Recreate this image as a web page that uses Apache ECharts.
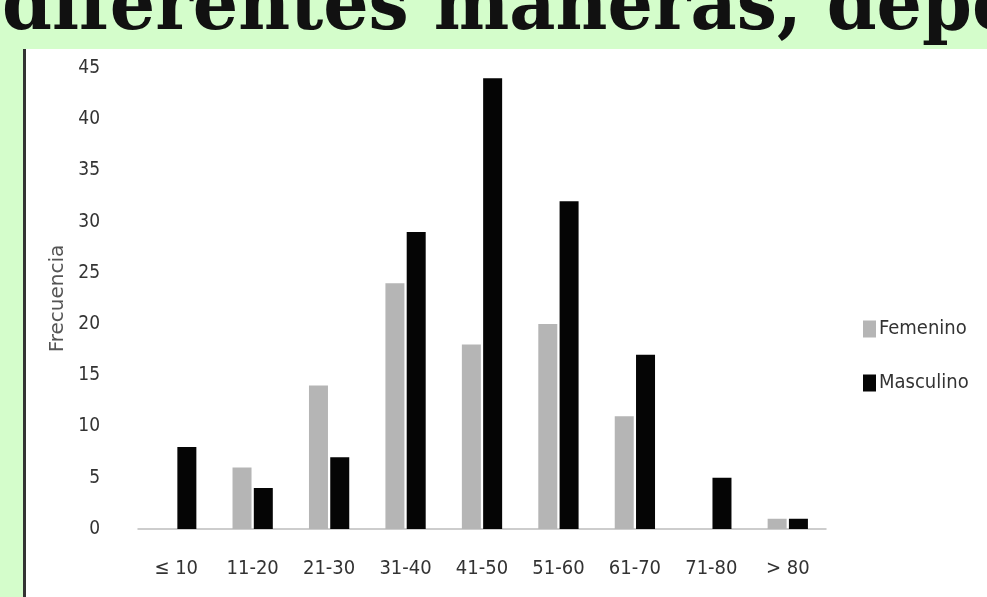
<!DOCTYPE html>
<html>
<head>
<meta charset="utf-8">
<script src="https://cdn.jsdelivr.net/npm/echarts@6/dist/echarts.min.js"></script>
<style>
  html, body { margin: 0; padding: 0; }
  body { width: 987px; height: 597px; background: #d4fdcb; position: relative; overflow: hidden; }
  .titulo {
    position: absolute; left: 2px; top: -34px; white-space: nowrap; line-height: 74px;
    font-family: "DejaVu Serif", serif; font-weight: bold;
    font-size: 74px; color: #111; transform: scaleX(0.965); transform-origin: 0 0;
  }
  .hoja { position: absolute; left: 23px; top: 49px; right: 0; bottom: 0; background: #fff; border-left: 3px solid #333; }
  .echarts { position: absolute; left: 0; top: 0; width: 987px; height: 597px; }
</style>
</head>
<body>
<div class="titulo">diferentes maneras, dependiendo</div>
<div class="hoja"></div>
<div class="echarts" id="myChart"></div>
<script>
// datos
var categorias = ["≤ 10", "11-20", "21-30", "31-40", "41-50", "51-60", "61-70", "71-80", "> 80"];
var femenino = [0, 6, 14, 24, 18, 20, 11, 0, 1];
var masculino = [8, 4, 7, 29, 44, 32, 17, 5, 1];
var ticksY = { min: 0, max: 45, interval: 5 };

var fuente = '"DejaVu Sans Condensed", sans-serif';

var myChart = echarts.init(document.getElementById('myChart'));
myChart.setOption({
  animation: false,
  grid: { left: 138, right: 161, top: 68, bottom: 68 },
  legend: {
    orient: 'vertical',
    left: 858,
    top: 314,
    itemWidth: 13,
    itemHeight: 17,
    itemGap: 34,
    icon: 'rect',
    textStyle: { fontFamily: fuente, fontSize: 20, color: '#333', padding: [0, 0, 0, -2] },
    data: ['Femenino', 'Masculino']
  },
  xAxis: {
    type: 'category',
    data: categorias,
    axisLine: { lineStyle: { color: '#bdbdbd', width: 1.5 } },
    axisTick: { show: false },
    axisLabel: { fontFamily: fuente, fontSize: 20, color: '#333', margin: 30 }
  },
  yAxis: {
    type: 'value',
    min: ticksY.min,
    max: ticksY.max,
    interval: ticksY.interval,
    name: 'Frecuencia',
    nameLocation: 'middle',
    nameGap: 56,
    nameTextStyle: { fontFamily: 'DejaVu Sans', fontSize: 20, color: '#555' },
    axisLine: { show: false },
    axisTick: { show: false },
    splitLine: { show: false },
    axisLabel: { fontFamily: fuente, fontSize: 19, color: '#333', margin: 38 }
  },
  series: [
    {
      name: 'Femenino',
      type: 'bar',
      barWidth: 19,
      barGap: '12%',
      itemStyle: { color: '#b5b5b5' },
      data: femenino
    },
    {
      name: 'Masculino',
      type: 'bar',
      barWidth: 19,
      barGap: '12%',
      itemStyle: { color: '#050505' },
      data: masculino
    }
  ]
});
</script>
</body>
</html>
